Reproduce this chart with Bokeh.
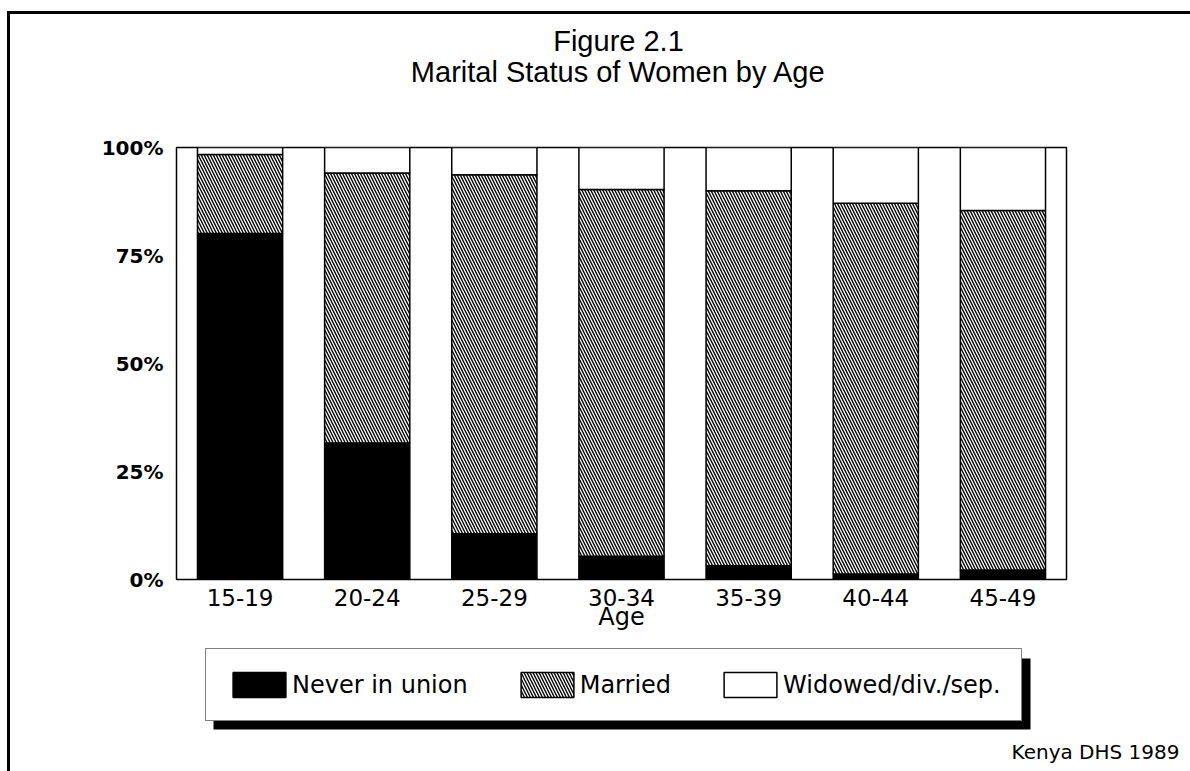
import numpy as np
from bokeh.plotting import figure
from bokeh.layouts import column
from bokeh.models import (ColumnDataSource, FactorRange, Range1d, FixedTicker,
                          Legend, LegendItem, BoxAnnotation, Label)
from bokeh.embed import file_html
from bokeh.resources import INLINE

# ---------------- data ----------------
ages = ["15-19", "20-24", "25-29", "30-34", "35-39", "40-44", "45-49"]
never_in_union = [80.1, 31.6, 10.6, 5.4, 3.2, 1.3, 2.2]
married = [18.3, 62.5, 83.1, 84.9, 86.8, 85.8, 83.2]
widowed_div_sep = [1.6, 5.9, 6.3, 9.7, 10.0, 12.9, 14.6]
series_names = ["Never in union", "Married", "Widowed/div./sep."]
y_ticks = [0, 25, 50, 75, 100]
y_tick_labels = ["0%", "25%", "50%", "75%", "100%"]
title_line1 = "Figure 2.1"
title_line2 = "Marital Status of Women by Age"
x_title = "Age"
source_note = "Kenya DHS 1989"

# ---------------- stacking ----------------
n = np.array(never_in_union)
m = np.array(married)
w = np.array(widowed_div_sep)
src = ColumnDataSource(dict(
    age=ages,
    b0=np.zeros(len(ages)),
    t1=n,
    t2=n + m,
    t3=n + m + w,
))

FONT = "DejaVu Sans"
W = 1180
H0, H1, H2 = 105, 519, 133

BAR_W = 0.67
never_style = dict(fill_color="black", line_color="black", line_width=1.5)
married_style = dict(fill_color="white", line_color="black", line_width=1.5,
                     hatch_pattern="\\", hatch_color="black", hatch_scale=6,
                     hatch_weight=1.4)
widowed_style = dict(fill_color="white", line_color="black", line_width=1.5)


def strip(height, **kw):
    f = figure(width=W, height=height, output_backend="svg",
               toolbar_location=None,
               min_border_left=0, min_border_right=0,
               min_border_top=0, min_border_bottom=0,
               x_axis_location=None, y_axis_location=None, **kw)
    f.frame_align = False
    f.grid.visible = False
    f.outline_line_color = None
    f.background_fill_color = "white"
    f.border_fill_color = "white"
    return f


# ---------------- title strip ----------------
p0 = strip(H0, x_range=Range1d(0, 1), y_range=Range1d(0, 1))
for txt, yy in ((title_line1, 79), (title_line2, 48)):
    p0.add_layout(Label(x=608, y=yy, x_units="screen", y_units="screen",
                        text=txt, text_align="center", text_baseline="middle",
                        text_font="Liberation Sans", text_font_size="29px",
                        text_color="black"))

# ---------------- main chart ----------------
p = figure(width=W, height=H1,
           x_range=FactorRange(*ages, range_padding=0),
           y_range=Range1d(0, 100),
           output_backend="svg", toolbar_location=None,
           min_border_left=166, min_border_right=124,
           min_border_top=28, min_border_bottom=H1 - 460)
p.frame_align = False
p.grid.visible = False
p.outline_line_color = "black"
p.outline_line_width = 1.5
p.background_fill_color = "white"
p.border_fill_color = "white"

p.vbar(x="age", bottom="b0", top="t1", width=BAR_W, source=src, **never_style)
p.vbar(x="age", bottom="t1", top="t2", width=BAR_W, source=src, **married_style)
p.vbar(x="age", bottom="t2", top="t3", width=BAR_W, source=src, **widowed_style)

xa = p.xaxis[0]
xa.axis_line_color = None
xa.major_tick_line_color = None
xa.major_tick_out = 0
xa.minor_tick_line_color = None
xa.major_label_text_font = FONT
xa.major_label_text_font_size = "23px"
xa.major_label_text_color = "black"
xa.major_label_standoff = 9
xa.axis_label = x_title
xa.axis_label_text_font = FONT
xa.axis_label_text_font_size = "24px"
xa.axis_label_text_font_style = "normal"
xa.axis_label_text_color = "black"
xa.axis_label_standoff = -6

ya = p.yaxis[0]
ya.axis_line_color = None
ya.major_tick_line_color = None
ya.major_tick_out = 0
ya.minor_tick_line_color = None
ya.ticker = FixedTicker(ticks=y_ticks)
ya.major_label_overrides = {t: lab for t, lab in zip(y_ticks, y_tick_labels)}
ya.major_label_text_font = FONT
ya.major_label_text_font_size = "20px"
ya.major_label_text_font_style = "bold"
ya.major_label_text_color = "black"
ya.major_label_standoff = 13

# ---------------- legend strip ----------------
p2 = strip(H2, x_range=FactorRange(*ages), y_range=Range1d(1000, 1100))

# legend keys share the chart's data and styles; hidden in this strip
k1 = p2.vbar(x="age", bottom="b0", top="t1", width=BAR_W, source=src,
             visible=False, **never_style)
k2 = p2.vbar(x="age", bottom="t1", top="t2", width=BAR_W, source=src,
             visible=False, **married_style)
k3 = p2.vbar(x="age", bottom="t2", top="t3", width=BAR_W, source=src,
             visible=False, **widowed_style)

# drop shadow behind the legend box
p2.add_layout(BoxAnnotation(left=203, right=1020, top=113, bottom=42,
                            left_units="screen", right_units="screen",
                            top_units="screen", bottom_units="screen",
                            fill_color="black", fill_alpha=1, line_alpha=0,
                            level="underlay"))

legend = Legend(items=[LegendItem(label=series_names[0], renderers=[k1]),
                       LegendItem(label=series_names[1], renderers=[k2]),
                       LegendItem(label=series_names[2], renderers=[k3])],
                orientation="horizontal", location=(195, 50),
                glyph_width=66, glyph_height=31, label_standoff=0,
                spacing=46, padding=20, margin=0,
                border_line_color="black", border_line_width=1.5,
                background_fill_color="white", background_fill_alpha=1,
                inactive_fill_alpha=0,
                label_text_font=FONT, label_text_font_size="24px",
                label_text_color="black")
p2.add_layout(legend, "center")

p2.add_layout(Label(x=1169, y=19.5, x_units="screen", y_units="screen",
                    text=source_note, text_align="right", text_baseline="middle",
                    text_font=FONT, text_font_size="20px", text_color="black"))

layout = column(p0, p, p2, margin=(11, 0, 0, 7),
                styles={"border-top": "3px solid black",
                        "border-left": "3px solid black"})

open("out.html", "w").write(file_html(layout, INLINE))
